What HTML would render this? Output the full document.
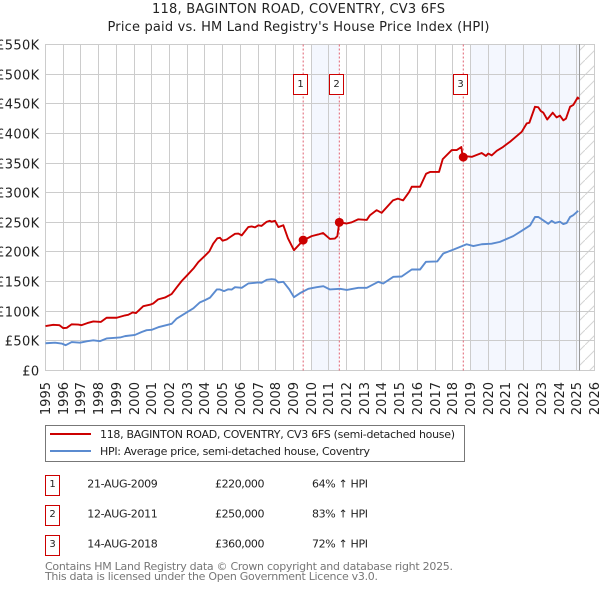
<!DOCTYPE html>
<html>
<head>
<meta charset="utf-8">
<title>118, BAGINTON ROAD, COVENTRY, CV3 6FS</title>
<style>
html,body{margin:0;padding:0;background:#fff;}
svg{display:block;font-family:"DejaVu Sans","Liberation Sans",sans-serif;fill:#222;}
</style>
</head>
<body>
<svg id="chart" width="600" height="590" viewBox="0 0 600 590">
  <defs>
    <pattern id="hatch" patternUnits="userSpaceOnUse" width="15" height="15">
      <line x1="0" y1="15" x2="15" y2="0" stroke="#d4d4d4" stroke-width="1"/>
    </pattern>
  </defs>
  <text x="298.5" y="13" text-anchor="middle" font-size="13" textLength="293">118, BAGINTON ROAD, COVENTRY, CV3 6FS</text>
  <text x="298.5" y="31" text-anchor="middle" font-size="13" textLength="382">Price paid vs. HM Land Registry's House Price Index (HPI)</text>
  <g id="shading"></g>
  <rect x="579.5" y="44.5" width="15" height="326" fill="url(#hatch)"/>
  <g id="grid"></g>
  <g id="ylabels"></g>
  <g id="xlabels"></g>
  <line x1="579.5" y1="44" x2="579.5" y2="370.5" stroke="#999" stroke-width="1"/>
  <g id="salelines"></g>
  <g id="series"></g>
  <g id="markers"></g>

  <g>
    <rect x="45.5" y="425.5" width="419" height="36" fill="#fff" stroke="#777" stroke-width="1"/>
    <line x1="50" y1="434" x2="91" y2="434" stroke="#cc0000" stroke-width="2"/>
    <text x="100" y="438" font-size="11" textLength="355">118, BAGINTON ROAD, COVENTRY, CV3 6FS (semi-detached house)</text>
    <line x1="50" y1="451" x2="91" y2="451" stroke="#5b8bd0" stroke-width="2"/>
    <text x="100" y="455" font-size="11" textLength="270">HPI: Average price, semi-detached house, Coventry</text>
  </g>

  <g>
    <g>
      <rect x="45.5" y="475.5" width="14" height="20" fill="#fff" stroke="#cc0000"/>
      <text x="52.5" y="487" text-anchor="middle" font-size="10">1</text>
      <text x="87.3" y="487.5" font-size="11" textLength="70.5">21-AUG-2009</text>
      <text x="215" y="487.5" font-size="11" textLength="49.5">£220,000</text>
      <text x="312" y="487.5" font-size="11" textLength="56">64% ↑ HPI</text>
    </g>
    <g>
      <rect x="45.5" y="505.5" width="14" height="20" fill="#fff" stroke="#cc0000"/>
      <text x="52.5" y="517" text-anchor="middle" font-size="10">2</text>
      <text x="87.3" y="517.5" font-size="11" textLength="70.5">12-AUG-2011</text>
      <text x="215" y="517.5" font-size="11" textLength="49.5">£250,000</text>
      <text x="312" y="517.5" font-size="11" textLength="56">83% ↑ HPI</text>
    </g>
    <g>
      <rect x="45.5" y="535.5" width="14" height="20" fill="#fff" stroke="#cc0000"/>
      <text x="52.5" y="547" text-anchor="middle" font-size="10">3</text>
      <text x="87.3" y="547.5" font-size="11" textLength="70.5">14-AUG-2018</text>
      <text x="215" y="547.5" font-size="11" textLength="49.5">£360,000</text>
      <text x="312" y="547.5" font-size="11" textLength="56">72% ↑ HPI</text>
    </g>
  </g>

  <text x="45" y="570" font-size="11" fill="#777" style="fill:#777" textLength="408">Contains HM Land Registry data © Crown copyright and database right 2025.</text>
  <text x="45" y="580" font-size="11" fill="#777" style="fill:#777" textLength="333">This data is licensed under the Open Government Licence v3.0.</text>
</svg>

<script>
const xTickYears = [1995,1996,1997,1998,1999,2000,2001,2002,2003,2004,2005,2006,2007,2008,2009,2010,2011,2012,2013,2014,2015,2016,2017,2018,2019,2020,2021,2022,2023,2024,2025,2026];
const yTickValues = [0,50,100,150,200,250,300,350,400,450,500,550];
const yTickLabels = ['£0','£50K','£100K','£150K','£200K','£250K','£300K','£350K','£400K','£450K','£500K','£550K'];

const priceDates = [1995.0,1995.44,1995.78,1996.0,1996.2,1996.48,1996.85,1997.04,1997.36,1997.7,1998.13,1998.45,1999.02,1999.49,1999.67,1999.92,2000.11,2000.52,2000.9,2001.08,2001.36,2001.74,2002.12,2002.4,2002.69,2003.01,2003.38,2003.63,2004.0,2004.25,2004.47,2004.7,2004.85,2005.0,2005.23,2005.42,2005.7,2005.89,2006.08,2006.45,2006.64,2006.83,2007.02,2007.2,2007.49,2007.67,2007.77,2007.96,2008.15,2008.43,2008.69,2009.03,2009.55,2010.03,2010.4,2010.67,2011.06,2011.34,2011.48,2011.59,2012.01,2012.29,2012.65,2013.14,2013.32,2013.7,2013.98,2014.62,2014.9,2015.19,2015.53,2015.68,2016.15,2016.49,2016.71,2017.22,2017.43,2017.94,2018.22,2018.48,2018.55,2019.07,2019.63,2019.87,2020.0,2020.2,2020.48,2020.83,2021.23,2021.89,2022.17,2022.32,2022.64,2022.83,2022.96,2023.11,2023.33,2023.64,2023.86,2024.05,2024.24,2024.39,2024.62,2024.8,2025.05,2025.13];
const priceValues = [75,77,76.5,71.5,72,78,77.5,76.5,80,82.7,82,89,89,93,94,98,97,108.5,111,113,120,123,129,140,151,161,173,183,193.5,201,214,223,224,219,221,225,230.6,231,228,242,243,241.5,245,244,251,252.5,251,252.5,242,245,223,203,219.5,226.7,229.5,232,222,222.7,226.7,250,248,250,255,254,262,270.5,266,287,290,287,301,310,310,332,335,335,356.6,372,372,377,362,360.5,367,362,366,363,370.6,377,386,402.7,416.8,418,445,444,438,435,423.5,435,427,430,422,425,445,448,460.6,458];

const hpiDates = [1995.0,1995.54,1995.91,1996.14,1996.48,1996.95,1997.36,1997.7,1998.08,1998.45,1999.21,1999.49,2000.05,2000.43,2000.71,2000.99,2001.37,2002.12,2002.41,2002.97,2003.35,2003.72,2004.01,2004.29,2004.67,2004.85,2005.08,2005.32,2005.51,2005.7,2006.08,2006.45,2007.02,2007.2,2007.49,2007.77,2007.96,2008.15,2008.43,2008.77,2009.03,2009.37,2009.84,2010.31,2010.69,2011.06,2011.63,2012.01,2012.66,2013.14,2013.79,2014.07,2014.64,2015.11,2015.68,2016.15,2016.48,2017.12,2017.46,2018.03,2018.78,2019.16,2019.63,2020.19,2020.66,2021.41,2021.89,2022.36,2022.64,2022.83,2023.39,2023.58,2023.77,2024.05,2024.24,2024.43,2024.62,2024.8,2025.08];
const hpiValues = [46,47,45.5,42.7,48,47,49.5,51,49.5,54,55.7,58,60,65,68,68.6,73,78.7,87.7,98,105,115,118.7,123,136.7,136.7,134,137,136.5,140.6,139.5,146.8,148.5,148,153,154,153.5,148.5,149.6,136.7,123.7,130.5,137.8,140.6,142.3,136.7,137.8,136,139.5,139.5,149.6,146.8,158,158.6,170.4,170.4,183.4,184,197.4,204,213,210,213,214,217,226.7,235.6,244.7,259,259,247.5,252.5,249,251,247,249,259,262,269.4];

const saleLabels = ['1','2','3'];
const saleDates = [2009.55,2011.59,2018.59];
const saleValues = [220,250,360];
const shadeStarts = [2010,2019];
const shadeEnds = [2011.59,2025.2];

const NS = 'http://www.w3.org/2000/svg';
function xAxis(year){ return 45.5 + (year - 1995) * 17.71; }
function yAxis(value){ return 370.5 - value * 0.5927; }
function snap(v){ return Math.floor(v) + 0.5; }
function make(tag, attrs, parent){
  const el = document.createElementNS(NS, tag);
  for (const k in attrs) el.setAttribute(k, attrs[k]);
  parent.appendChild(el);
  return el;
}
const gridG = document.getElementById('grid');
const shadeG = document.getElementById('shading');
const yLabG = document.getElementById('ylabels');
const xLabG = document.getElementById('xlabels');
const saleG = document.getElementById('salelines');
const seriesG = document.getElementById('series');
const markG = document.getElementById('markers');

shadeStarts.forEach(function(s, i){
  const r = make('rect', {x: xAxis(s), y: 44.5, width: xAxis(shadeEnds[i]) - xAxis(s), height: 326, fill: '#f4f7fe'}, shadeG);
  
  
});

yTickValues.forEach(function(v, i){
  const y = snap(yAxis(v));
  const l = make('line', {x1: 45, x2: 595, y1: y, y2: y, stroke: '#cccccc', 'stroke-width': 1}, gridG);
  
  
  const t = make('text', {x: 39.5, y: y + 5, 'text-anchor': 'end', 'font-size': 13, 'letter-spacing': 0.35}, yLabG);
  t.textContent = yTickLabels[i];
  
  
});

xTickYears.forEach(function(yr){
  const x = snap(xAxis(yr));
  const l = make('line', {x1: x, x2: x, y1: 44, y2: 371, stroke: '#cccccc', 'stroke-width': 1}, gridG);
  
  
  const t = make('text', {transform: 'translate(' + (x + 4.5) + ',382) rotate(-90)', 'text-anchor': 'end', 'font-size': 13}, xLabG);
  t.textContent = String(yr);
  
  
});

saleDates.forEach(function(d, i){
  const x = xAxis(d);
  const l = make('line', {x1: x, x2: x, y1: 44.5, y2: 370.5, stroke: '#e06070', 'stroke-width': 1, 'stroke-dasharray': '2 2'}, saleG);
  
  
});

function pathOf(dates, values){
  return dates.map(function(d, i){
    return (i ? 'L' : 'M') + xAxis(d).toFixed(2) + ' ' + yAxis(values[i]).toFixed(2);
  }).join(' ');
}
const hpiLine = make('path', {d: pathOf(hpiDates, hpiValues), fill: 'none', stroke: '#5b8bd0', 'stroke-width': 1.9, 'stroke-linejoin': 'round'}, seriesG);


const priceLine = make('path', {d: pathOf(priceDates, priceValues), fill: 'none', stroke: '#cc0000', 'stroke-width': 1.9, 'stroke-linejoin': 'round'}, seriesG);



saleDates.forEach(function(d, i){
  const c = make('circle', {cx: xAxis(d), cy: yAxis(saleValues[i]), r: 4.5, fill: '#cc0000'}, markG);
  
  
  const bx = Math.round(xAxis(d)) - 9.5;
  const b = make('rect', {x: bx, y: 74.5, width: 14, height: 20, fill: '#fff', stroke: '#cc0000', 'stroke-width': 1}, markG);
  
  
  const t = make('text', {x: bx + 7, y: 87, 'text-anchor': 'middle', 'font-size': 10}, markG);
  t.textContent = saleLabels[i];
  
  
});
</script>
</body>
</html>
